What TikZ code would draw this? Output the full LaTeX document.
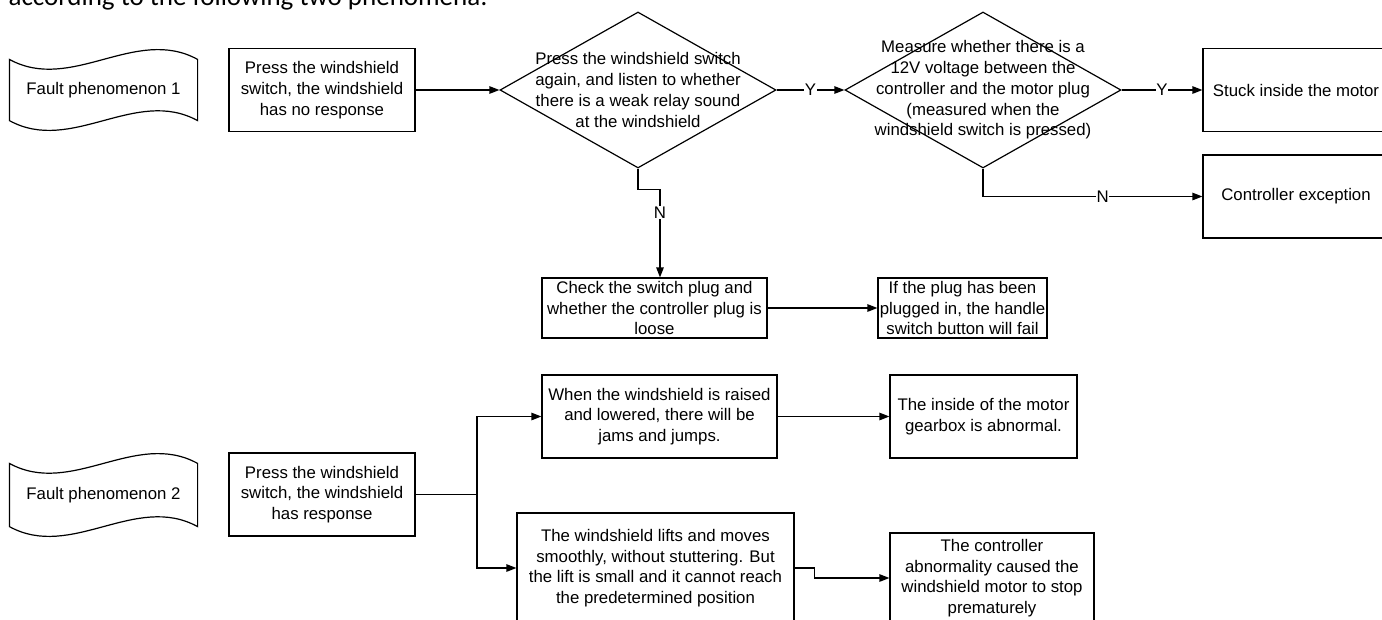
\documentclass[tikz,border=0pt]{standalone}
\usepackage{fontspec}
\setmainfont{Liberation Sans}
\newfontfamily\titlefont{Carlito}
\usetikzlibrary{shapes.geometric,arrows.meta}
\newcommand\dfont{\fontsize{16.8}{20.7}\selectfont}
\begin{document}
\begin{tikzpicture}[x=1pt,y=-1pt,line width=1.2pt,
  box/.style={draw,rectangle,inner sep=0pt,align=center,font=\dfont},
  tapebox/.style={rectangle,inner sep=0pt,align=center,font=\dfont},
  dia/.style={draw,diamond,inner sep=0pt,minimum width=276pt,minimum height=156pt},
  dtext/.style={align=center,font=\dfont,inner sep=0pt},
  arr/.style={-{Triangle[length=10pt,width=7.5pt]}},
  lab/.style={fill=white,inner sep=0.6pt,font=\dfont}]
\useasboundingbox (0,0) rectangle (1382,619);
\clip (0,0) rectangle (1382,619);

\node[anchor=base west,inner sep=0pt,font=\titlefont\fontsize{27}{30}\selectfont] (title) at (8,5) {according to the following two phenomena:};

% ---------- phenomenon 1 ----------
\node[tapebox,minimum width=187pt,minimum height=60pt] (f1) at (103.5,90) {Fault phenomenon 1};
\draw (f1.north west) .. controls +(62,34) and +(-62,-34) .. (f1.north east)
  -- (f1.south east) .. controls +(-62,-34) and +(62,34) .. (f1.south west) -- cycle;

\node[box,minimum width=186pt,minimum height=83pt] (b1) at (322,90) {Press the windshield\\switch, the windshield\\has no response};

\node[dia] (d1) at (638,90) {};
\node[dtext] (d1t) at (638,90) {Press the windshield switch\\again, and listen to whether\\there is a weak relay sound\\at the windshield};

\node[dia] (d2) at (983,90) {};
\node[dtext] (d2t) at (983,90) {Measure whether there is a\\12V voltage between the\\controller and the motor plug\\(measured when the\\windshield switch is pressed)};

\node[box,minimum width=186pt,minimum height=83pt] (stuck) at (1296,90) {Stuck inside the motor};
\node[box,minimum width=186pt,minimum height=83pt] (ctrl) at (1296,196.5) {Controller exception};

\node[box,minimum width=225pt,minimum height=60pt] (check) at (654.5,308) {Check the switch plug and\\whether the controller plug is\\loose};
\node[box,minimum width=169pt,minimum height=60pt] (plug) at (962.5,308) {If the plug has been\\plugged in, the handle\\switch button will fail};

\draw[arr] (b1.east) -- (d1.west);
\draw[arr] (d1.east) -- node[lab]{Y} (d2.west);
\draw[arr] (d2.east) -- node[lab]{Y} (stuck.west);
\draw[arr] (d2.south) |- node[lab,pos=0.773]{N} (ctrl.west);
\draw[arr] (d1.south) -- ++(0,21) -| node[lab,pos=0.63]{N} ([xshift=5.5pt]check.north);
\draw[arr] (check.east) -- (plug.west);

% ---------- phenomenon 2 ----------
\node[tapebox,minimum width=187pt,minimum height=62pt] (f2) at (103.5,495) {Fault phenomenon 2};
\draw (f2.north west) .. controls +(62,34) and +(-62,-34) .. (f2.north east)
  -- (f2.south east) .. controls +(-62,-34) and +(62,34) .. (f2.south west) -- cycle;

\node[box,minimum width=186pt,minimum height=83pt] (b2) at (322,494.5) {Press the windshield\\switch, the windshield\\has response};

\node[box,minimum width=235pt,minimum height=83pt] (ba) at (659.5,416.5) {When the windshield is raised\\and lowered, there will be\\jams and jumps.};
\node[box,minimum width=187pt,minimum height=83pt] (bb) at (983.5,416.5) {The inside of the motor\\gearbox is abnormal.};
\node[box,minimum width=277pt,minimum height=110pt] (bc) at (655.5,568) {The windshield lifts and moves\\smoothly, without stuttering. But\\the lift is small and it cannot reach\\the predetermined position};
\node[box,minimum width=204pt,minimum height=90pt] (bd) at (992,578) {The controller\\abnormality caused the\\windshield motor to stop\\prematurely};

\coordinate (j) at (477,494.5);
\draw (b2.east) -- (j);
\draw[arr] (j) |- (ba.west);
\draw[arr] (j) |- (bc.west);
\draw[arr] (ba.east) -- (bb.west);
\draw[arr] (bc.east) -- ++(20,0) |- (bd.west);
\end{tikzpicture}
\end{document}
